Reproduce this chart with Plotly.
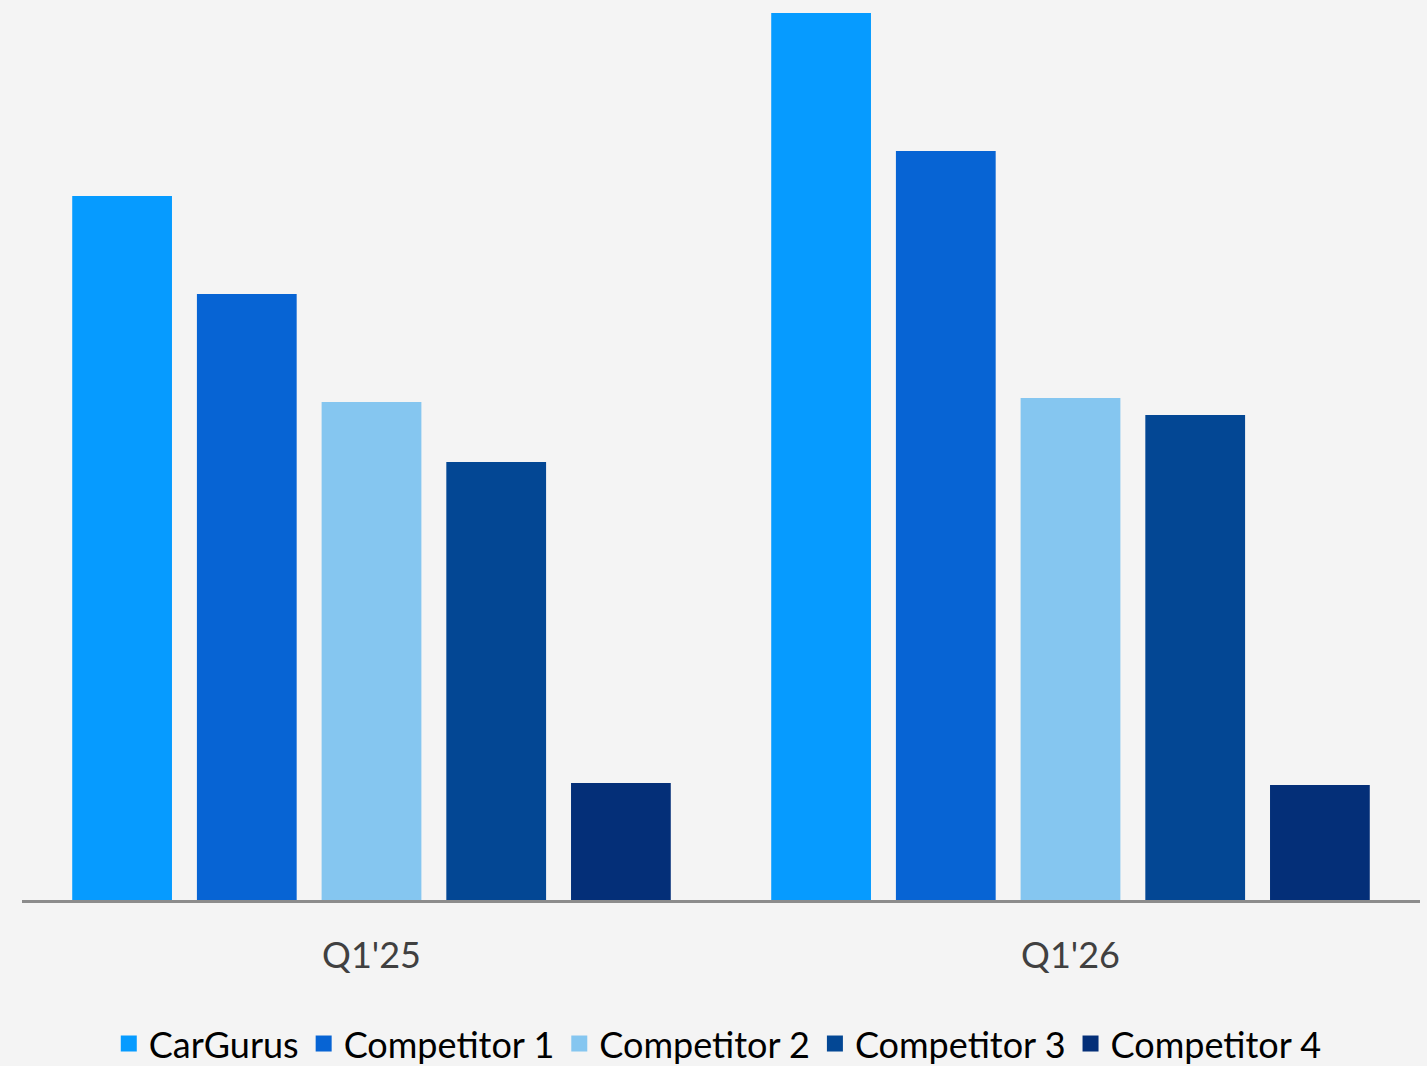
import plotly.graph_objects as go

categories = ["Q1'25", "Q1'26"]
series_names = ["CarGurus", "Competitor 1", "Competitor 2", "Competitor 3", "Competitor 4"]
cargurus = [704, 887]
competitor1 = [606, 749]
competitor2 = [498, 502]
competitor3 = [438, 485]
competitor4 = [117, 115]
colors = ["#069BFF", "#0764D4", "#85C6F0", "#034794", "#042F78"]

values = [cargurus, competitor1, competitor2, competitor3, competitor4]

fig = go.Figure()
for name, vals, col in zip(series_names, values, colors):
    fig.add_trace(go.Bar(x=categories, y=vals, name=name, legendgroup=name,
                         showlegend=False,
                         marker=dict(color=col, line=dict(width=0))))
for name, col in zip(series_names, colors):
    fig.add_trace(go.Scatter(x=[None], y=[None], name=name, legendgroup=name,
                             mode="markers",
                             marker=dict(symbol="square", size=16, color=col)))

fig.update_layout(
    barmode="group",
    bargap=0.108,
    bargroupgap=0.2,
    width=1427, height=1066,
    margin=dict(l=22, r=7, t=13, b=166, autoexpand=False),
    paper_bgcolor="#F4F4F4",
    plot_bgcolor="#F4F4F4",
    font=dict(family="Lato, Inter, sans-serif"),
    showlegend=True,
    legend=dict(orientation="h", x=0.503, xref="container", xanchor="center",
                y=0.021, yref="container", yanchor="middle",
                font=dict(size=36, color="#000000"), itemwidth=30,
                bgcolor="rgba(0,0,0,0)"),
    xaxis=dict(showline=True, linecolor="#8C8C8C", linewidth=2.5, ticks="",
               tickfont=dict(size=36, color="#404040"), showgrid=False,
               ticklabelstandoff=22),
    yaxis=dict(range=[0, 887], visible=False, showgrid=False, zeroline=False),
)
fig.write_html("out.html", config={"displayModeBar": False},
               post_script="document.body.style.margin='0';document.body.style.background='#F4F4F4';")
